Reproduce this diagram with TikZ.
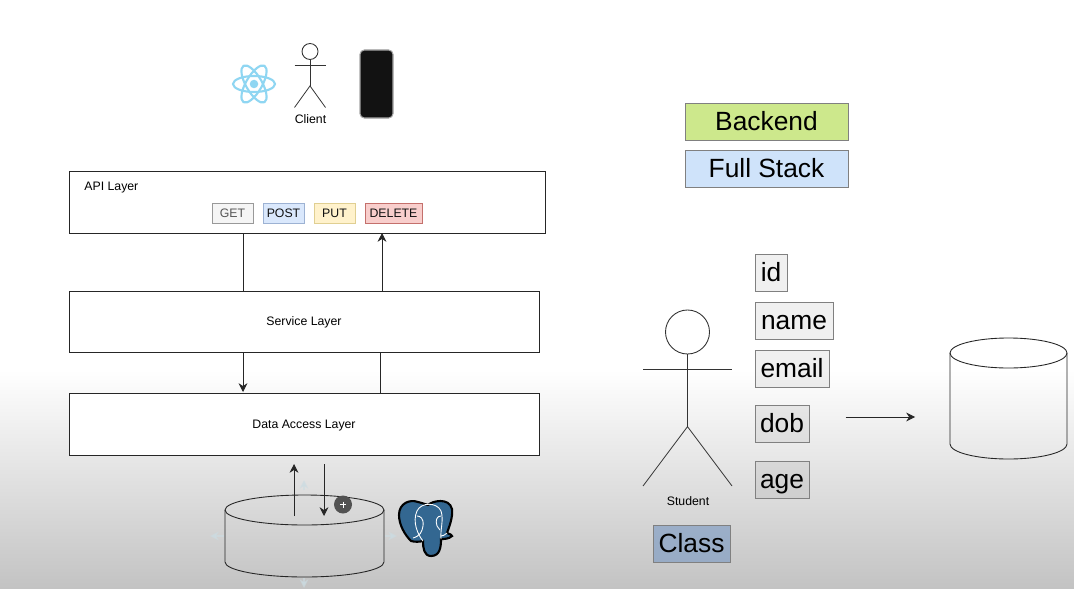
\documentclass[tikz,border=0pt]{standalone}
\usepackage{fontspec}
\setmainfont{Liberation Sans}
\usetikzlibrary{arrows.meta}
\definecolor{bgbottom}{HTML}{C3C3C3}
\definecolor{reactblue}{HTML}{8FD6F2}
\definecolor{pgblue}{HTML}{336791}
\newcommand{\stickman}[5]{% name, x, head y, head r, half span
  \node[draw=black!80,circle,line width=0.5pt,minimum size=#4*2*0.02cm,inner sep=0pt] (#1-head) at (#2,#3) {};
  \coordinate (#1-hip) at (#2,#3+#4*4.3);
  \coordinate (#1-arml) at (#2-#5,#3+#4*1.68);
  \coordinate (#1-armr) at (#2+#5,#3+#4*1.68);
  \coordinate (#1-legl) at (#2-#5,#3+#4*7);
  \coordinate (#1-legr) at (#2+#5,#3+#4*7);
  \draw[line width=0.45pt,black!80] (#1-head) -- (#1-hip);
  \draw[line width=0.45pt,black!80] (#1-arml) -- (#1-armr);
  \draw[line width=0.45pt,black!80] (#1-legl) -- (#1-hip) -- (#1-legr);
}
\newcommand{\dbdrum}[5]{% name, x, top y, half width, height
  \node[minimum width=#4*2*0.02cm,minimum height=#5*0.02cm,inner sep=0pt] (#1) at (#2,#3+#5/2) {};
  \draw[draw=black!85,line width=0.5pt] (#2,#3+15) ellipse (#4 and 15);
  \draw[draw=black!85,line width=0.5pt] (#2-#4,#3+15) -- (#2-#4,#3+#5-15) arc (180:0:#4 and 15) -- (#2+#4,#3+15);
}
\begin{document}
\begin{tikzpicture}[x=0.02cm,y=-0.02cm,>={Stealth[length=5pt,width=5pt]}]
    \tikzstyle{layer}=[draw=black!85,fill=white,line width=0.45pt,inner sep=0pt,text height=5pt,text depth=0pt,font=\fontsize{7}{8}\selectfont]
    \tikzstyle{verb}=[draw,line width=0.5pt,inner sep=0pt,minimum height=20*0.02cm,font=\fontsize{7}{8}\selectfont]
    \tikzstyle{field}=[draw=black!50,fill=black,fill opacity=0.06,text opacity=1,line width=0.5pt,inner sep=0pt,minimum height=37*0.02cm,text height=10.5pt,text depth=0pt,font=\fontsize{15}{18}\selectfont]
    \tikzstyle{legend}=[draw=black!50,line width=0.5pt,inner sep=0pt,minimum width=163*0.02cm,minimum height=37*0.02cm,font=\fontsize{15}{18}\selectfont]
    \tikzstyle{wire}=[line width=0.45pt,black!85]
    \tikzstyle{hint}=[line width=0.8pt,cyan!30!gray!35,opacity=0.6]

    \useasboundingbox (0,0) rectangle (1074,588);
    \fill[white] (0,0) rectangle (1074,370);
    \shade[top color=white,bottom color=bgbottom] (0,370) rectangle (1074,588);

    % client row
    \node[fill=reactblue,circle,minimum size=8.5*0.02cm,inner sep=0pt] (react) at (254,84) {};
    \foreach \ang in {0,60,120}
        \draw[reactblue,line width=1.2pt,rotate around={\ang:(react)}] (react) ellipse (21 and 8);
    \stickman{client}{310}{51.5}{8}{15.5}
    \node[font=\fontsize{7}{8}\selectfont] (clientlabel) at (310.5,119.5) {Client};
    \node[draw=black!35,fill=black!93,rounded corners=2.5pt,line width=0.6pt,minimum width=33*0.02cm,minimum height=68*0.02cm,inner sep=0pt] (phone) at (376.5,84) {};

    % layers
    \node[layer,minimum width=476*0.02cm,minimum height=62*0.02cm] (api) at (307,202) {};
    \node[font=\fontsize{7}{8}\selectfont,anchor=west,inner sep=0pt] (apilabel) at (84,188) {API Layer};
    \node[layer,minimum width=470*0.02cm,minimum height=61*0.02cm] (service) at (304,321.5) {Service Layer};
    \node[layer,minimum width=470*0.02cm,minimum height=62*0.02cm] (data) at (304,424) {Data Access Layer};

    \foreach \nm/\txt/\x/\w/\col/\edge/\tcol in {get/GET/232.5/41/F5F5F5/999999/555555, post/POST/283.5/41/DAE8FC/9DB2D3/111111, put/PUT/334.5/41/FFF2CC/E0CF92/111111, delete/DELETE/393.5/57/F8CECC/C4706C/111111} {
        \definecolor{vfill}{HTML}{\col}
        \definecolor{vedge}{HTML}{\edge}
        \definecolor{vtext}{HTML}{\tcol}
        \node[verb,draw=vedge,fill=vfill,text=vtext,minimum width=\w*0.02cm] (\nm) at (\x,213) {\txt};
    }

    % connector ends
    \foreach \nm/\x/\y in {a/243.5/233, b/243.5/291, c/382/291, d/382/233, e/243/352, f/243/392, g/380/393, h/380/352, i/294/516, j/294/464, k/324/464, l/324/516, m/845.5/417, n/915/417}
        \coordinate (p-\nm) at (\x,\y);

    \draw[wire] (p-a) -- (p-b);
    \draw[wire,->] (p-c) -- (p-d);
    \draw[wire,->] (p-e) -- (p-f);
    \draw[wire] (p-g) -- (p-h);

    % database
    \dbdrum{pgdb}{304.5}{495}{79.5}{82}
    \draw[wire,->] (p-i) -- (p-j);
    \draw[wire,->] (p-k) -- (p-l);
    \draw[wire,->] (p-m) -- (p-n);

    % faint handles round the database
    \foreach \xa/\ya/\xb/\yb in {224/536/210/536, 304/490/304/480, 385/536/397/536, 304/578/304/588}
        \draw[hint,->] (\xa,\ya) -- (\xb,\yb);

    \node[fill=black!68,circle,minimum size=18*0.02cm,inner sep=0pt] (cursor) at (343,504.5) {};
    \draw[white,line width=0.35pt] (340,504.5) -- (346,504.5);
    \draw[white,line width=0.35pt] (343,501.5) -- (343,507.5);

    % elephant
    \draw[black,line width=1.2pt,fill=pgblue] (399,515) .. controls (399,503) and (410,499) .. (418,502)
        .. controls (422,503) and (425,504) .. (428,505)
        .. controls (432,501) and (449,497) .. (452,509)
        .. controls (453,518) and (449,527) .. (447,533)
        .. controls (450,534) and (452,535) .. (452,536)
        .. controls (449,539) and (444,539) .. (441,539)
        .. controls (441,547) and (440,556) .. (431,556)
        .. controls (424,556) and (423,548) .. (423,541)
        .. controls (419,542) and (415,542) .. (411,541)
        .. controls (405,535) and (399,525) .. (399,515) -- cycle;
    \draw[white,line width=0.5pt] (423,541) .. controls (418,535) and (412,522) .. (417,511)
        .. controls (421,502) and (437,502) .. (441,511)
        .. controls (444,520) and (440,530) .. (441,539);
    \draw[white,line width=0.5pt] (417,516) .. controls (420,516) and (424,518) .. (423,526)
        .. controls (422,532) and (420,536) .. (413,538);
    \draw[white,line width=0.5pt] (441,516) .. controls (437,516) and (435,520) .. (437,526) -- (440,530);
    \draw[white,line width=0.5pt] (447,533) .. controls (445,535) and (443,536) .. (441,536);

    % legend
    \node[legend,fill={rgb,255:red,205;green,232;blue,140}] (backend) at (766.5,121.5) {Backend};
    \node[legend,fill={rgb,255:red,207;green,227;blue,250}] (fullstack) at (766.5,168.5) {Full Stack};

    % student
    \stickman{student}{687.5}{332}{22}{44.5}
    \node[font=\fontsize{7}{8}\selectfont] (studentlabel) at (688,501) {Student};
    \foreach \nm/\txt/\x/\y/\w in {id/id/771/272.5/32, name/name/794/320.5/78, email/email/792/368.5/74, dob/dob/782/423.5/54, age/age/782/479.5/54}
        \node[field,minimum width=\w*0.02cm] (\nm) at (\x,\y) {\txt};
    \node[field,fill={rgb,255:red,125;green,155;blue,195},fill opacity=0.65,minimum width=77*0.02cm] (class) at (691.5,543.5) {Class};

    % table
    \dbdrum{table}{1008.5}{338}{58.5}{121}
\end{tikzpicture}
\end{document}
